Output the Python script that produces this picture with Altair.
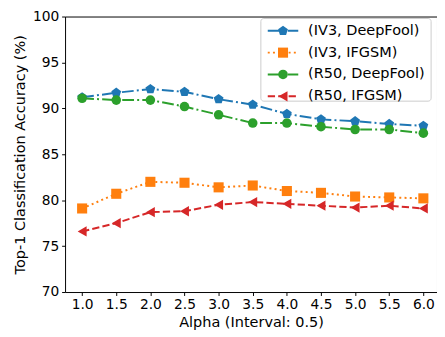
import altair as alt
import pandas as pd

alphas = [1.0, 1.5, 2.0, 2.5, 3.0, 3.5, 4.0, 4.5, 5.0, 5.5, 6.0]
series_names = ["(IV3, DeepFool)", "(IV3, IFGSM)", "(R50, DeepFool)", "(R50, IFGSM)"]
iv3_deepfool = [91.2, 91.7, 92.1, 91.8, 91.0, 90.4, 89.4, 88.8, 88.6, 88.3, 88.1]
iv3_ifgsm = [79.1, 80.7, 82.0, 81.9, 81.4, 81.6, 81.0, 80.8, 80.4, 80.3, 80.2]
r50_deepfool = [91.1, 90.9, 90.9, 90.2, 89.3, 88.4, 88.4, 88.0, 87.7, 87.7, 87.3]
r50_ifgsm = [76.6, 77.5, 78.7, 78.8, 79.5, 79.8, 79.6, 79.4, 79.2, 79.4, 79.1]
y_ticks = [70, 75, 80, 85, 90, 95, 100]

values = [iv3_deepfool, iv3_ifgsm, r50_deepfool, r50_ifgsm]
colors = ["#1f77b4", "#ff7f0e", "#2ca02c", "#d62728"]
pentagon = "M0,-1L0.951,-0.309L0.588,0.809L-0.588,0.809L-0.951,-0.309Z"
shapes = [pentagon, "square", "circle", "triangle-left"]
sizes = [110, 105, 95, 110]
dashes = [[12, 3.2, 2, 3.2], [2, 3.3], [12, 3.2, 2, 3.2], [7.4, 3.2]]

FONT = "DejaVu Sans"

x_scale = alt.Scale(domain=[0.75, 6.2], nice=False, zero=False)
y_scale = alt.Scale(domain=[70, 100], nice=False, zero=False)
x_axis = alt.Axis(values=alphas, format=".1f", title="Alpha (Interval: 0.5)",
                  labelPadding=2, titlePadding=4)
y_axis = alt.Axis(values=y_ticks, title="Top-1 Classification Accuracy (%)",
                  labelPadding=3, titlePadding=5)

layers = []
for i, name in enumerate(series_names):
    df = pd.DataFrame({"alpha": alphas, "acc": values[i], "series": name})
    xe = alt.X("alpha:Q", scale=x_scale, axis=x_axis)
    ye = alt.Y("acc:Q", scale=y_scale, axis=y_axis)
    base = alt.Chart(df)
    line = base.mark_line(color=colors[i], strokeWidth=2, strokeDash=dashes[i]).encode(x=xe, y=ye)
    pts = base.mark_point(shape=shapes[i], filled=True, size=sizes[i], color=colors[i],
                          opacity=1).encode(x=xe, y=ye)
    layers += [line, pts]

# legend box
box = alt.Chart(pd.DataFrame({"k": [0]})).mark_rect(
    fill="white", fillOpacity=0.8, stroke="#cccccc", strokeWidth=1, cornerRadius=3
).encode(x=alt.value(199), x2=alt.value(372), y=alt.value(2), y2=alt.value(86))
layers.append(box)

leg_y = [14.5, 36.7, 58.9, 81.1]
for i, name in enumerate(series_names):
    d = pd.DataFrame({"label": [name]})
    lb = alt.Chart(d)
    layers.append(lb.mark_rule(color=colors[i], strokeWidth=2, strokeDash=dashes[i]).encode(
        x=alt.value(206), x2=alt.value(237), y=alt.value(leg_y[i])))
    layers.append(lb.mark_point(shape=shapes[i], filled=True, size=sizes[i], color=colors[i],
                                opacity=1).encode(x=alt.value(221.5), y=alt.value(leg_y[i])))
    layers.append(lb.mark_text(align="left", baseline="middle", font=FONT, fontSize=14.7,
                               color="black").encode(
        x=alt.value(247), y=alt.value(leg_y[i]), text="label:N"))

chart = alt.layer(*layers).properties(
    width=378, height=280,
    autosize=alt.AutoSizeParams(type="none"),
    padding={"left": 58, "top": 6, "right": 0, "bottom": 41},
).configure_view(stroke="black", strokeWidth=1).configure_axis(
    grid=False, domain=False, labelFont=FONT, labelFontSize=14, labelColor="black",
    tickColor="black", tickSize=3.5, titleFont=FONT, titleFontSize=14.7, titleColor="black",
    titleFontWeight="normal"
)

chart.save("out.html", embed_options={"renderer": "svg", "actions": False})
